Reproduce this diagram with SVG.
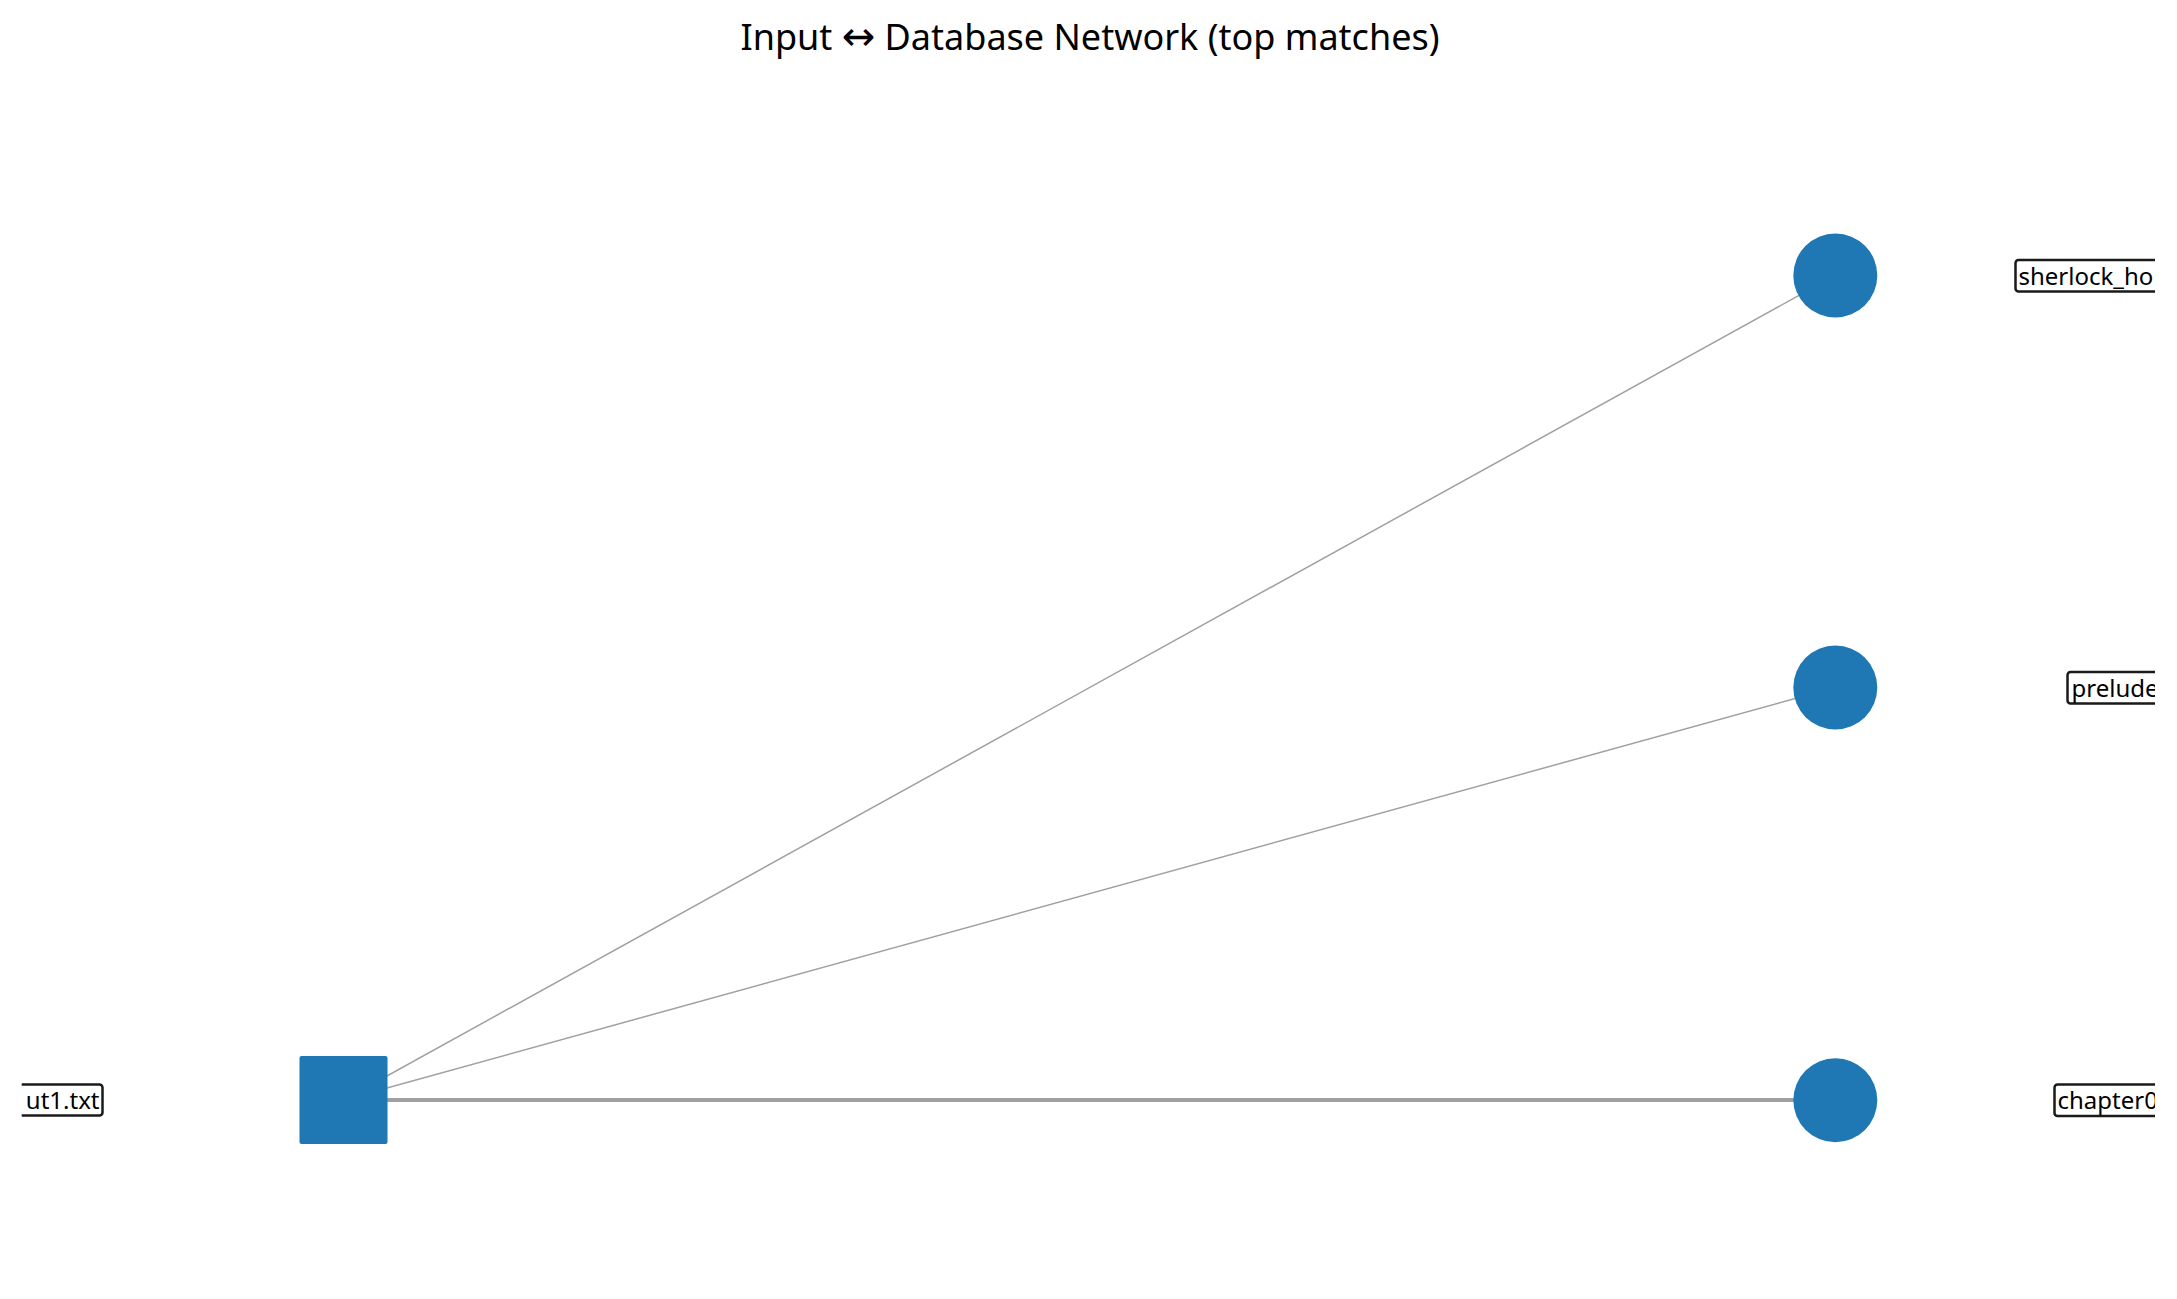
<svg xmlns="http://www.w3.org/2000/svg" width="2177" height="1299" viewBox="0 0 2177 1299">
  <style>
    .title { font-family: "Noto Sans", "Liberation Sans", sans-serif; font-size: 36px; fill: #000; }
    .arrow { font-family: "DejaVu Sans", sans-serif; font-size: 40px; }
    .lbl { font-family: "Noto Sans", "Liberation Sans", sans-serif; font-size: 24px; fill: #000; }
    .lblbox { fill: #fff; stroke: #1a1a1a; stroke-width: 2.5; }
    .node { fill: #1f77b4; }
    .edge { stroke: #a0a0a0; fill: none; }
  </style>
  <defs>
    <clipPath id="axclip">
      <rect x="21.7" y="0" width="2133.3" height="1299"/>
    </clipPath>
  </defs>
  <rect x="0" y="0" width="2177" height="1299" fill="#fff"/>
  <text class="title" x="1090" y="50" text-anchor="middle">Input <tspan class="arrow">↔</tspan> Database Network (top matches)</text>

  <g id="connectors">
    <line class="edge" x1="343.5" y1="1100" x2="1835" y2="275.5" stroke-width="1.5"/>
    <line class="edge" x1="343.5" y1="1100" x2="1835" y2="687.5" stroke-width="1.5"/>
    <line class="edge" x1="343.5" y1="1100" x2="1835" y2="1100" stroke-width="4.2"/>
  </g>

  <g id="node-input">
    <rect class="node" x="299.5" y="1056" width="88" height="88" rx="2"/>
  </g>
  <g id="node-sherlock">
    <circle class="node" cx="1835.3" cy="275.5" r="42"/>
  </g>
  <g id="node-prelude">
    <circle class="node" cx="1835.3" cy="687.5" r="42"/>
  </g>
  <g id="node-chapter">
    <circle class="node" cx="1835.3" cy="1100.2" r="42"/>
  </g>

  <g id="labels" clip-path="url(#axclip)">
    <g id="label-input">
      <rect class="lblbox" x="-20" y="1084.5" width="122.5" height="31" rx="3"/>
      <text class="lbl" x="99.5" y="1108.5" text-anchor="end">ut1.txt</text>
    </g>
    <g id="label-sherlock">
      <rect class="lblbox" x="2015.5" y="260" width="200" height="31.5" rx="3"/>
      <text class="lbl" x="2018.5" y="284.5">sherlock_ho</text>
    </g>
    <g id="label-prelude">
      <rect class="lblbox" x="2067.5" y="672" width="150" height="31.5" rx="3"/>
      <text class="lbl" x="2071.5" y="696.5">prelude</text>
    </g>
    <g id="label-chapter">
      <rect class="lblbox" x="2054.5" y="1084.5" width="150" height="31.5" rx="3"/>
      <text class="lbl" x="2057.5" y="1109">chapter0</text>
    </g>
  </g>
</svg>
